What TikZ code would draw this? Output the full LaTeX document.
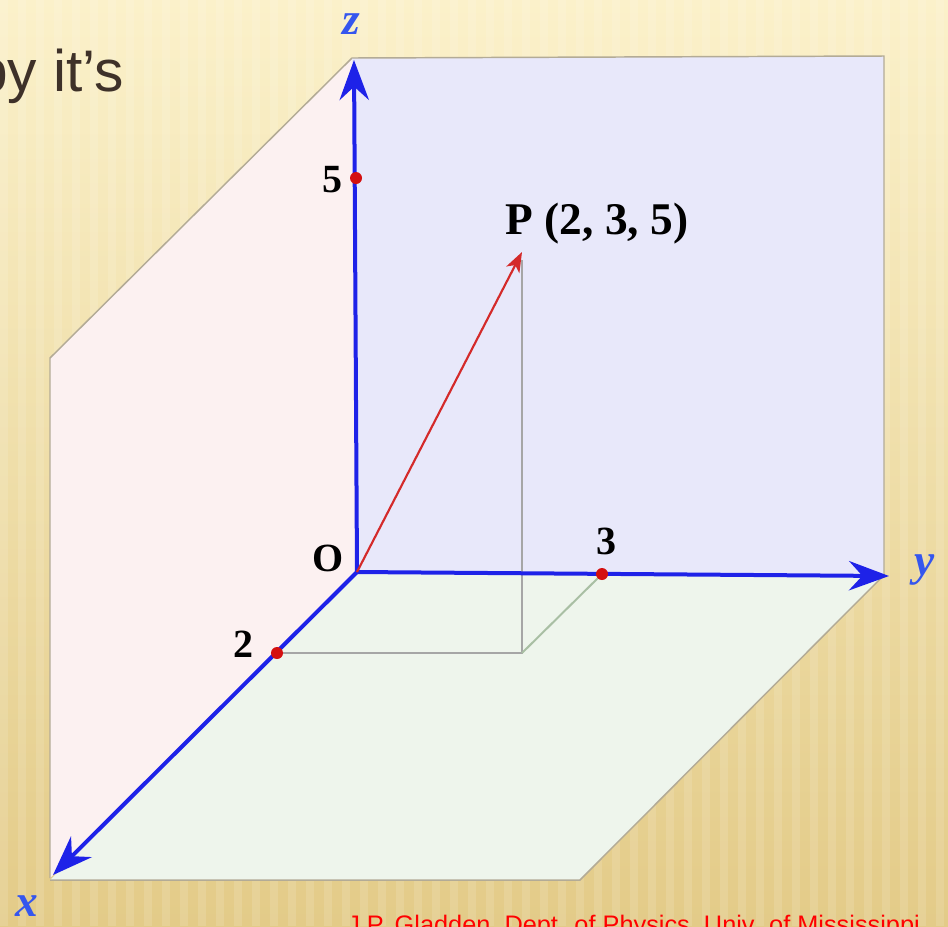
\documentclass[tikz,border=0pt]{standalone}
\usepackage{fontspec}
\setmainfont{Liberation Serif}
\newfontfamily\slidefont{Liberation Sans}
\usetikzlibrary{arrows.meta}
\definecolor{bgtop}{HTML}{FBF1CA}
\definecolor{bgbot}{HTML}{E3CB88}
\definecolor{backc}{HTML}{E8E8FA}
\definecolor{leftc}{HTML}{FCF1F1}
\definecolor{floorc}{HTML}{EEF5EC}
\definecolor{edgec}{HTML}{B3AB96}
\definecolor{axisblue}{HTML}{1E22E8}
\definecolor{vecred}{HTML}{D42A2A}
\definecolor{dotred}{HTML}{D41010}
\definecolor{guide}{HTML}{A6A6A6}
\definecolor{guideg}{HTML}{A9BFA4}
\definecolor{labblue}{HTML}{3556EE}
\definecolor{slidetext}{HTML}{3E3129}
\tikzset{
  panel/.style={draw=edgec, line width=1.1pt, line join=miter},
  axisline/.style={draw=axisblue, line width=3pt, -{Stealth[length=30pt,width=22pt,inset=10pt]}},
  guideline/.style={draw=guide, line width=1.5pt},
  vecline/.style={draw=vecred, line width=1.6pt, -{Stealth[length=15pt,width=11pt,inset=4pt]}},
  reddot/.style={circle, fill=dotred, inner sep=0pt, minimum size=9pt},
  numlab/.style={font=\fontsize{30}{34}\selectfont\bfseries, inner sep=0pt},
  axlab/.style={font=\fontsize{34}{38}\selectfont\bfseries\itshape, text=labblue, inner sep=0pt}
}
\begin{document}
\begin{tikzpicture}[x=0.75pt,y=-0.75pt]
\useasboundingbox (0,0) rectangle (948,926);
\begin{scope}
\clip (0,0) rectangle (948,926);
\shade[top color=bgtop, bottom color=bgbot] (0,0) rectangle (948,926);
\foreach \i in {0,...,53} \fill[white, opacity=0.12] (\i*18,0) rectangle +(8,926);
% points
\coordinate (O) at (357,572);
\coordinate (Zt) at (354,60);
\coordinate (Xt) at (53,875);
\coordinate (Yt) at (889,576);
\coordinate (P) at (522,252);
\coordinate (Q) at (522,653);
\coordinate (A2) at (277,653);
\coordinate (B3) at (602,574);
\coordinate (C5) at (356,178);
\coordinate (BTL) at (352,58);
\coordinate (BTR) at (884,56);
\coordinate (BBR) at (884,575);
\coordinate (LTF) at (50,358);
\coordinate (LBF) at (50,878);
\coordinate (FFR) at (580,880);
\coordinate (FFL) at (50,880);
% panels
\fill[leftc] (BTL) -- (LTF) -- (LBF) -- (O) -- cycle;
\draw[panel] (BTL) -- (LTF) -- (LBF);
\fill[backc] (BTL) -- (BTR) -- (BBR) -- (O) -- cycle;
\draw[panel] (BTL) -- (BTR) -- (BBR);
\fill[floorc] (O) -- (BBR) -- (FFR) -- (FFL) -- cycle;
\draw[panel] (BBR) -- (FFR) -- (FFL);
% guide lines
\draw[guideline] ([yshift=-6]P) -- (Q) -- (A2);
\draw[draw=guideg, line width=1.5pt] (Q) -- (B3);
% axes
\draw[axisline] (O) -- (Zt);
\draw[axisline] (O) -- (Yt);
\draw[axisline] (O) -- (Xt);
% vector
\draw[vecline] (O) -- (P);
% dots
\node[reddot] (d5) at (C5) {};
\node[reddot] (d2) at (A2) {};
\node[reddot] (d3) at (B3) {};
% labels
\node[numlab] (l5) at (332,180) {5};
\node[numlab] (l2) at (243,644) {2};
\node[numlab] (l3) at (606,541) {3};
\node[numlab] (lO) at (328,558) {O};
\node[font=\fontsize{34}{38}\selectfont\bfseries, inner sep=0pt] (lP) at (597,224) {P (2, 3, 5)};
\node[axlab] (lz) at (351,24) {z};
\node[axlab] (lx) at (27,906) {x};
\node[axlab] (ly) at (925,570) {y};
% slide texts
\node[anchor=base west, inner sep=0pt, text=slidetext, font=\slidefont\fontsize{44}{48}\selectfont] (t1) at (-25,91) {by it’s};
\node[anchor=base west, inner sep=0pt, text=red, font=\slidefont\fontsize{19}{22}\selectfont] (t2) at (347,933) {J.P. Gladden, Dept. of Physics, Univ. of Mississippi};
\end{scope}
\end{tikzpicture}
\end{document}
